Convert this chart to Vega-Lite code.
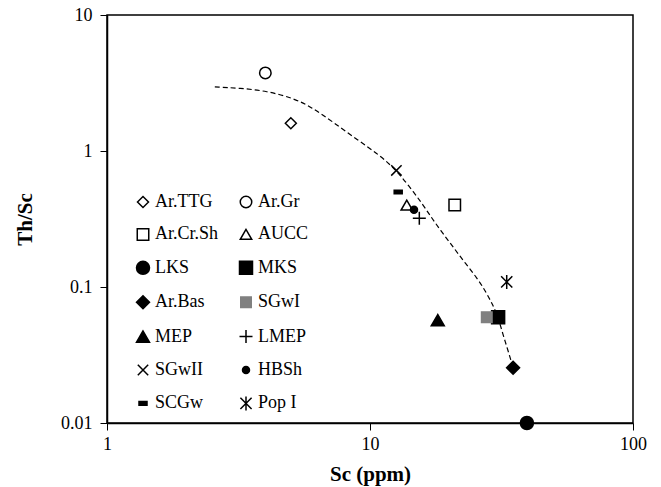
{
  "$schema": "https://vega.github.io/schema/vega-lite/v6.json",
  "width": 526,
  "height": 408,
  "autosize": {"type": "none"},
  "padding": {"left": 107, "top": 15, "right": 28, "bottom": 64},
  "background": "white",
  "config": {
    "font": "Liberation Serif",
    "view": {"stroke": "black", "strokeWidth": 1.5},
    "axis": {
      "grid": false,
      "domainColor": "black",
      "domainWidth": 1.5,
      "tickColor": "black",
      "tickWidth": 1,
      "tickSize": 7,
      "labelFont": "Liberation Serif",
      "labelFontSize": 18,
      "labelColor": "black",
      "labelFlush": false,
      "labelOverlap": false,
      "titleFont": "Liberation Serif",
      "titleFontSize": 21,
      "titleFontWeight": "bold",
      "titleColor": "black"
    },
    "legend": {
      "labelFont": "Liberation Serif",
      "labelFontSize": 18,
      "labelColor": "black"
    }
  },
  "datasets": {
    "points": [
      {"group": "Ar.TTG", "sc": 5.0, "thsc": 1.6},
      {"group": "Ar.Gr", "sc": 4.0, "thsc": 3.75},
      {"group": "Ar.Cr.Sh", "sc": 21.0, "thsc": 0.40},
      {"group": "AUCC", "sc": 13.8, "thsc": 0.40},
      {"group": "LKS", "sc": 39.5, "thsc": 0.01},
      {"group": "MKS", "sc": 30.7, "thsc": 0.060},
      {"group": "Ar.Bas", "sc": 35.0, "thsc": 0.0255},
      {"group": "SGwI", "sc": 27.8, "thsc": 0.060},
      {"group": "MEP", "sc": 18.1, "thsc": 0.057},
      {"group": "LMEP", "sc": 15.4, "thsc": 0.32},
      {"group": "SGwII", "sc": 12.6, "thsc": 0.72},
      {"group": "HBSh", "sc": 14.7, "thsc": 0.37},
      {"group": "SCGw", "sc": 12.8, "thsc": 0.50},
      {"group": "Pop I", "sc": 33.1, "thsc": 0.109}
    ],
    "curve": [
      {"sc": 2.57, "thsc": 2.96},
      {"sc": 3.2, "thsc": 2.9},
      {"sc": 4.06, "thsc": 2.76},
      {"sc": 5.1, "thsc": 2.45},
      {"sc": 6.0, "thsc": 2.1},
      {"sc": 7.24, "thsc": 1.63},
      {"sc": 9.0, "thsc": 1.2},
      {"sc": 10.9, "thsc": 0.93},
      {"sc": 12.5, "thsc": 0.73},
      {"sc": 14.0, "thsc": 0.56},
      {"sc": 15.8, "thsc": 0.41},
      {"sc": 17.2, "thsc": 0.32},
      {"sc": 19.0, "thsc": 0.245},
      {"sc": 21.0, "thsc": 0.19},
      {"sc": 23.0, "thsc": 0.15},
      {"sc": 25.5, "thsc": 0.117},
      {"sc": 27.5, "thsc": 0.093},
      {"sc": 29.3, "thsc": 0.074},
      {"sc": 30.7, "thsc": 0.060},
      {"sc": 32.0, "thsc": 0.045},
      {"sc": 33.5, "thsc": 0.034},
      {"sc": 35.0, "thsc": 0.0255}
    ]
  },
  "layer": [
    {
      "data": {"name": "curve"},
      "mark": {"type": "line", "color": "black", "strokeWidth": 1.2, "strokeDash": [5, 3], "interpolate": "basis"},
      "encoding": {
        "x": {"field": "sc", "type": "quantitative", "scale": {"type": "log", "domain": [1, 100], "nice": false},
          "axis": {"values": [1, 10, 100], "format": "~g", "title": "Sc (ppm)", "labelPadding": 5, "titlePadding": 10}},
        "y": {"field": "thsc", "type": "quantitative", "scale": {"type": "log", "domain": [0.01, 10], "nice": false},
          "axis": {"values": [0.01, 0.1, 1, 10], "format": "~g", "title": "Th/Sc", "labelPadding": 8, "titlePadding": 25}}
      }
    },
    {
      "data": {"name": "points"},
      "mark": {"type": "point", "opacity": 1, "strokeWidth": 1.5},
      "encoding": {
        "x": {"field": "sc", "type": "quantitative"},
        "y": {"field": "thsc", "type": "quantitative"},
        "shape": {"field": "group", "type": "nominal",
          "scale": {"domain": ["Ar.TTG", "Ar.Gr", "Ar.Cr.Sh", "AUCC", "LKS", "MKS", "Ar.Bas", "SGwI", "MEP", "LMEP", "SGwII", "HBSh", "SCGw", "Pop I"],
            "range": ["diamond", "circle", "square", "triangle-up", "circle", "square", "diamond", "square", "triangle-up", "M-1,0H1M0,-1V1", "M-0.8,-0.8L0.8,0.8M-0.8,0.8L0.8,-0.8", "circle", "M-1,-0.45H1V0.45H-1Z", "M-0.8,-0.8L0.8,0.8M-0.8,0.8L0.8,-0.8M0,-1V1"]},
          "legend": {"title": null, "orient": "none", "legendX": 27, "legendY": 178, "direction": "horizontal", "columns": 2, "padding": 0, "rowPadding": 14.4, "columnPadding": 17, "labelOffset": 3, "symbolStrokeWidth": 1.5}},
        "fill": {"field": "group", "type": "nominal",
          "scale": {"domain": ["Ar.TTG", "Ar.Gr", "Ar.Cr.Sh", "AUCC", "LKS", "MKS", "Ar.Bas", "SGwI", "MEP", "LMEP", "SGwII", "HBSh", "SCGw", "Pop I"],
            "range": ["white", "white", "white", "white", "black", "black", "black", "#808080", "black", "transparent", "transparent", "black", "black", "transparent"]},
          "legend": {"title": null, "orient": "none", "legendX": 27, "legendY": 178, "direction": "horizontal", "columns": 2, "padding": 0, "rowPadding": 14.4, "columnPadding": 17, "labelOffset": 3, "symbolStrokeWidth": 1.5}},
        "stroke": {"field": "group", "type": "nominal",
          "scale": {"domain": ["Ar.TTG", "Ar.Gr", "Ar.Cr.Sh", "AUCC", "LKS", "MKS", "Ar.Bas", "SGwI", "MEP", "LMEP", "SGwII", "HBSh", "SCGw", "Pop I"],
            "range": ["black", "black", "black", "black", "black", "black", "black", "#808080", "black", "black", "black", "black", "black", "black"]},
          "legend": {"title": null, "orient": "none", "legendX": 27, "legendY": 178, "direction": "horizontal", "columns": 2, "padding": 0, "rowPadding": 14.4, "columnPadding": 17, "labelOffset": 3, "symbolStrokeWidth": 1.5}},
        "size": {"field": "group", "type": "nominal",
          "scale": {"type": "ordinal", "domain": ["Ar.TTG", "Ar.Gr", "Ar.Cr.Sh", "AUCC", "LKS", "MKS", "Ar.Bas", "SGwI", "MEP", "LMEP", "SGwII", "HBSh", "SCGw", "Pop I"],
            "range": [121, 132, 132, 130, 169, 169, 169, 110, 169, 169, 169, 49, 64, 196]},
          "legend": {"title": null, "orient": "none", "legendX": 27, "legendY": 178, "direction": "horizontal", "columns": 2, "padding": 0, "rowPadding": 14.4, "columnPadding": 17, "labelOffset": 3, "symbolStrokeWidth": 1.5}}
      }
    }
  ]
}
